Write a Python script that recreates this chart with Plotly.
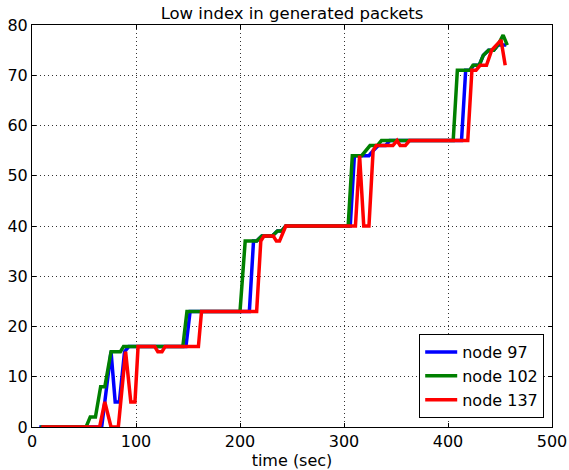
import plotly.graph_objects as go

# node 97 (blue)
t97 = [7, 67, 76, 80, 84, 89, 93, 148, 152, 209, 213, 216, 221, 231, 236, 240, 244, 306, 310, 324, 328, 333, 340, 344, 413, 417, 421, 425, 430, 434, 439, 444, 448, 452, 456]
v97 = [0, 0, 15, 5, 5, 15, 16, 16, 23, 23, 37, 37, 38, 38, 39, 39, 40, 40, 54, 54, 55, 56, 56, 57, 57, 71, 71, 72, 72, 74, 75, 75, 76, 76, 76]

# node 102 (green)
t102 = [8, 52, 56, 61, 66, 70, 76, 85, 88, 145, 149, 200, 205, 216, 221, 231, 236, 240, 244, 304, 308, 317, 325, 332, 336, 405, 409, 421, 424, 430, 434, 439, 444, 448, 453, 457]
v102 = [0, 0, 2, 2, 8, 8, 15, 15, 16, 16, 23, 23, 37, 37, 38, 38, 39, 39, 40, 40, 54, 54, 56, 56, 57, 57, 71, 71, 72, 72, 74, 75, 75, 76, 78, 76]

# node 137 (red)
t137 = [9, 65, 70, 76, 83, 90, 95, 99, 102, 118, 121, 125, 128, 160, 163, 216, 220, 223, 232, 235, 238, 244, 311, 315, 319, 324, 328, 331, 347, 351, 354, 359, 363, 419, 423, 427, 431, 437, 442, 446, 451, 455]
v137 = [0, 0, 5, 0, 0, 15, 5, 5, 16, 16, 15, 15, 16, 16, 23, 23, 37, 38, 38, 37, 37, 40, 40, 54, 40, 40, 55, 56, 56, 57, 56, 56, 57, 57, 71, 71, 72, 72, 75, 76, 77, 72]

series = [
    ("node 97", t97, v97, "#0000ff"),
    ("node 102", t102, v102, "#008000"),
    ("node 137", t137, v137, "#ff0000"),
]

fig = go.Figure()
for name, t, v, c in series:
    fig.add_trace(go.Scatter(x=t, y=v, mode="lines", name=name,
                             line=dict(color=c, width=3.5)))

axis_common = dict(
    showline=True, linecolor="black", linewidth=1, mirror="ticks",
    ticks="inside", ticklen=4, tickcolor="black",
    showgrid=True, gridcolor="rgba(0,0,0,0.8)", griddash="1px,3px", gridwidth=1,
    zeroline=False, automargin=False,
    tickfont=dict(size=16, color="black", family="DejaVu Sans"),
)

fig.update_xaxes(range=[0, 500], dtick=100, tick0=0,
                 title=dict(text="time (sec)", font=dict(size=16, color="black", family="DejaVu Sans"), standoff=0),
                 **axis_common)
fig.update_yaxes(range=[0, 80], dtick=10, tick0=0, **axis_common)

fig.update_layout(
    width=569, height=470,
    margin=dict(l=32, r=17, t=25, b=43),
    paper_bgcolor="white", plot_bgcolor="white",
    font=dict(family="DejaVu Sans", size=16, color="black"),
    title=dict(text="Low index in generated packets", xref="paper", x=0.5, xanchor="center",
               y=0.985, yanchor="top", font=dict(size=16.5, color="black", family="DejaVu Sans")),
    legend=dict(x=0.985, y=0.022, xanchor="right", yanchor="bottom",
                bordercolor="black", borderwidth=1, bgcolor="white",
                font=dict(size=16, color="black", family="DejaVu Sans"),
                itemwidth=32, tracegroupgap=0),
    showlegend=True,
)

fig.write_html("out.html", config={"displayModeBar": False},
               post_script="document.body.style.margin='0';document.body.style.overflow='hidden';")
